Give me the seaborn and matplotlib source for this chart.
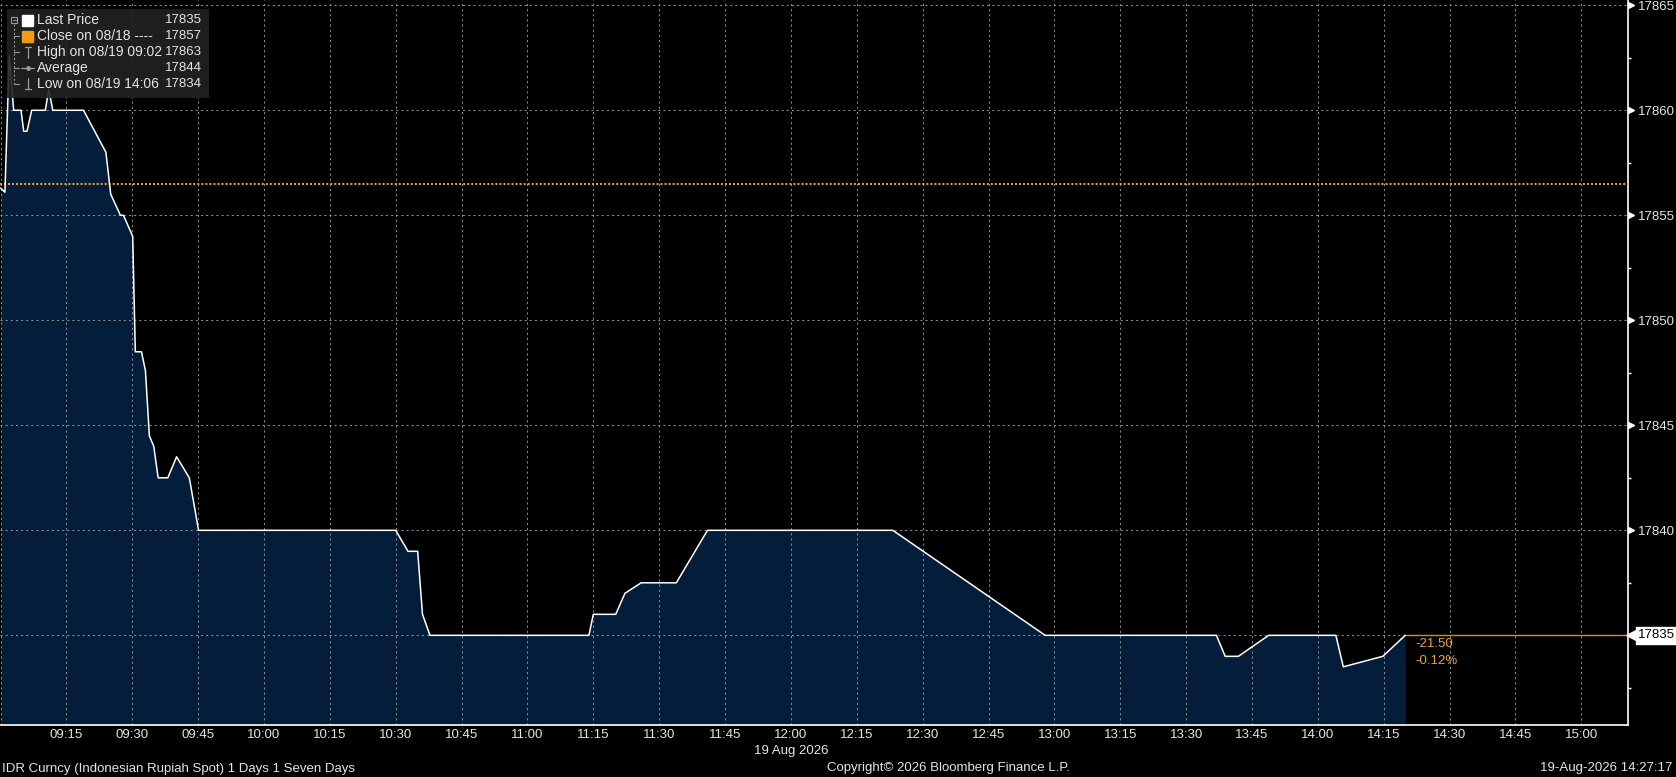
import numpy as np
import pandas as pd
import matplotlib
matplotlib.use("Agg")
import matplotlib.pyplot as plt
import matplotlib.transforms as mtransforms
from matplotlib.patches import Rectangle
from matplotlib.ticker import MultipleLocator
import seaborn as sns

# ---------------- data ----------------
DAY = "2026-08-19"
times = ["09:00:00", "09:01:00", "09:02:00", "09:03:00", "09:04:40", "09:05:17",
         "09:06:02", "09:07:06", "09:10:12", "09:11:00", "09:11:54", "09:18:54",
         "09:24:00", "09:25:06", "09:27:18", "09:28:00", "09:30:06", "09:30:42",
         "09:32:06", "09:33:00", "09:33:54", "09:34:54", "09:35:54", "09:38:06",
         "09:40:06", "09:43:00", "09:45:06", "10:30:00", "10:32:48", "10:35:00",
         "10:36:06", "10:37:48", "11:14:00", "11:15:00", "11:20:06", "11:22:12",
         "11:25:54", "11:33:54", "11:41:00", "12:23:12", "12:57:54", "13:36:54",
         "13:38:54", "13:41:54", "13:48:48", "14:04:06", "14:05:48", "14:14:48",
         "14:19:54"]
prices = [17856.3, 17856.1, 17862.6, 17860.0, 17860.0, 17859.0,
          17859.0, 17860.0, 17860.0, 17861.0, 17860.0, 17860.0,
          17858.0, 17856.0, 17855.0, 17855.0, 17854.0, 17848.5,
          17848.5, 17847.6, 17844.5, 17844.0, 17842.5, 17842.5,
          17843.5, 17842.5, 17840.0, 17840.0, 17839.0, 17839.0,
          17836.0, 17835.0, 17835.0, 17836.0, 17836.0, 17837.0,
          17837.5, 17837.5, 17840.0, 17840.0, 17835.0, 17835.0,
          17834.0, 17834.0, 17835.0, 17835.0, 17833.5, 17834.0,
          17835.0]
prev_close = 17856.5
last_price = 17835
change_labels = ["-21.50", "-0.12%"]

x_tick_times = ["09:00", "09:15", "09:30", "09:45", "10:00", "10:15", "10:30",
                "10:45", "11:00", "11:15", "11:30", "11:45", "12:00", "12:15",
                "12:30", "12:45", "13:00", "13:15", "13:30", "13:45", "14:00",
                "14:15", "14:30", "14:45", "15:00"]
y_ticks = [17835, 17840, 17845, 17850, 17855, 17860, 17865]

legend_labels = ["Last Price", "Close on 08/18 ----", "High on 08/19 09:02",
                 "Average", "Low on 08/19 14:06"]
legend_values = ["17835", "17857", "17863", "17844", "17834"]

date_label = "19 Aug 2026"
footer_left = "IDR Curncy (Indonesian Rupiah Spot) 1 Days 1 Seven Days"
footer_mid = "Copyright\u00a9 2026 Bloomberg Finance L.P."
footer_right = "19-Aug-2026 14:27:17"

# ---------------- style ----------------
sns.set_theme(style="dark")
plt.rcParams["font.family"] = ["Liberation Sans", "DejaVu Sans"]
plt.rcParams["lines.scale_dashes"] = False
FS = 9.5
FS_LEG = 10
TXT = "#e4e4e4"
FILL = "#041d3b"
ORANGE = "#f0a035"
GRID = "#8c8c8c"

W, H = 1676, 777
fig = plt.figure(figsize=(W / 100, H / 100), dpi=100, facecolor="black")
ax = fig.add_axes([0, 52 / H, 1628.3 / W, 725 / H])
ax.set_facecolor("black")

df = pd.DataFrame({"time": pd.to_datetime([f"{DAY} {t}" for t in times]),
                   "price": prices})

y_lo, y_hi = 17830.73, 17865.25
ax.fill_between(df["time"], df["price"], y_lo, color=FILL, lw=0, zorder=1)
sns.lineplot(data=df, x="time", y="price", ax=ax, color="white", lw=1.1,
             zorder=3)

x_lo = pd.Timestamp(f"{DAY} 08:59:53")
x_hi = pd.Timestamp(f"{DAY} 15:10:42")
ax.set_xlim(x_lo, x_hi)
ax.set_ylim(y_lo, y_hi)

# previous close dotted line
ax.axhline(prev_close, color=ORANGE, lw=1.5, ls=(0, (1.4, 1.5)), zorder=2.6)
# last price line continuing to the right edge
t_last = df["time"].iloc[-1]
ax.hlines(last_price, t_last, x_hi, color="#d8892c", lw=1.0, zorder=2.6)

# ticks
xt = pd.to_datetime([f"{DAY} {t}" for t in x_tick_times])
ax.set_xticks(xt)
ax.set_xticklabels([""] + x_tick_times[1:])
ax.yaxis.tick_right()
ax.set_yticks(y_ticks)
ax.set_yticklabels([""] + [str(v) for v in y_ticks[1:]])
ax.yaxis.set_minor_locator(MultipleLocator(2.5))
ax.tick_params(axis="x", which="major", colors="white", labelcolor=TXT,
               labelsize=FS, length=2, width=1, pad=0.8, direction="out")
ax.tick_params(axis="y", which="major", right=True, left=False, length=0,
               labelcolor=TXT, labelsize=FS, pad=7.2)
ax.tick_params(axis="y", which="minor", right=True, left=False, length=2.2,
               width=1, colors="white")
ax.set_xlabel("")
ax.set_ylabel("")

ax.grid(True, which="major", color=GRID, lw=0.75, ls=(0, (1.5, 2.2)))
ax.grid(False, which="minor")
ax.set_axisbelow("line")

for s in ["left", "top"]:
    ax.spines[s].set_visible(False)
for s in ["right", "bottom"]:
    ax.spines[s].set_visible(True)
    ax.spines[s].set_color("white")
    ax.spines[s].set_linewidth(1.2)

# triangle markers at the major ticks
blend = mtransforms.blended_transform_factory(ax.transAxes, ax.transData)
tri_tr = mtransforms.offset_copy(blend, fig=fig, x=3, y=0, units="dots")
ax.plot(np.ones(len(y_ticks) - 1), y_ticks[1:], transform=tri_tr, ls="none",
        marker=">", ms=5, color="white", clip_on=False, zorder=5)

# last price tag
tag_tr = mtransforms.offset_copy(blend, fig=fig, x=4, y=0, units="dots")
ax.plot([1], [last_price], transform=tag_tr, ls="none", marker="<", ms=9,
        color="white", clip_on=False, zorder=5)
txt_tr = mtransforms.offset_copy(blend, fig=fig, x=10, y=0, units="dots")
ax.text(1, last_price, str(last_price), transform=txt_tr, ha="left",
        va="center", fontsize=FS, color="black", zorder=6, clip_on=False,
        bbox=dict(boxstyle="square,pad=0.18", fc="white", ec="white"))

# change annotations
ax.annotate(change_labels[0], xy=(t_last, last_price), xytext=(7, -6.5),
            textcoords="offset points", ha="left", va="center",
            fontsize=FS, color=ORANGE)
ax.annotate(change_labels[1], xy=(t_last, last_price), xytext=(7, -18.5),
            textcoords="offset points", ha="left", va="center",
            fontsize=FS, color=ORANGE)

# footer texts
fig.text(791 / W, 1 - 751 / H, date_label, ha="center", va="center",
         fontsize=FS, color=TXT)
fig.text(2 / W, 1 - 769 / H, footer_left, ha="left", va="center",
         fontsize=FS, color=TXT)
fig.text(948 / W, 1 - 768 / H, footer_mid, ha="center", va="center",
         fontsize=FS, color=TXT)
fig.text(1 - 4 / W, 1 - 768 / H, footer_right, ha="right", va="center",
         fontsize=FS, color=TXT)

# legend box (pixel coordinates overlay)
ov = fig.add_axes([0, 0, 1, 1], zorder=10)
ov.set_xlim(0, W)
ov.set_ylim(H, 0)
ov.axis("off")
ov.patch.set_alpha(0)
ov.add_patch(Rectangle((7, 9), 202, 89, facecolor="#222222", alpha=0.9, lw=0))
rows_y = [20, 36, 52, 68, 84]
ICON = "#9a9a9a"
ov.plot([14, 14], [24, 84], color=ICON, lw=0.8, ls=(0, (1.5, 1.5)))
for yy in rows_y[1:]:
    ov.plot([14, 19], [yy, yy], color=ICON, lw=0.8)
ov.add_patch(Rectangle((11, 17), 6, 6, fill=False, ec=ICON, lw=0.8))
ov.plot([12.5, 15.5], [20, 20], color=ICON, lw=0.8)
ov.add_patch(Rectangle((22, 14.5), 11, 11, color="white"))
ov.add_patch(Rectangle((22, 30.5), 11, 11, color="#f39c12"))
ov.plot([27.5, 27.5], [47, 58], color=ICON, lw=0.9)
ov.plot([24.5, 30.5], [47, 47], color=ICON, lw=0.9)
ov.plot([21, 34], [68, 68], color=ICON, lw=0.9)
ov.plot([27.5], [68], marker="o", ms=2.5, color=ICON)
ov.plot([27.5, 27.5], [78, 89], color=ICON, lw=0.9)
ov.plot([24.5, 30.5], [89, 89], color=ICON, lw=0.9)
for yy, lab, val in zip(rows_y, legend_labels, legend_values):
    ov.text(37, yy, lab, ha="left", va="center", fontsize=FS_LEG, color=TXT)
    ov.text(202, yy, val, ha="right", va="center", fontsize=FS, color=TXT)

fig.savefig("out.png", dpi=100, facecolor="black")
